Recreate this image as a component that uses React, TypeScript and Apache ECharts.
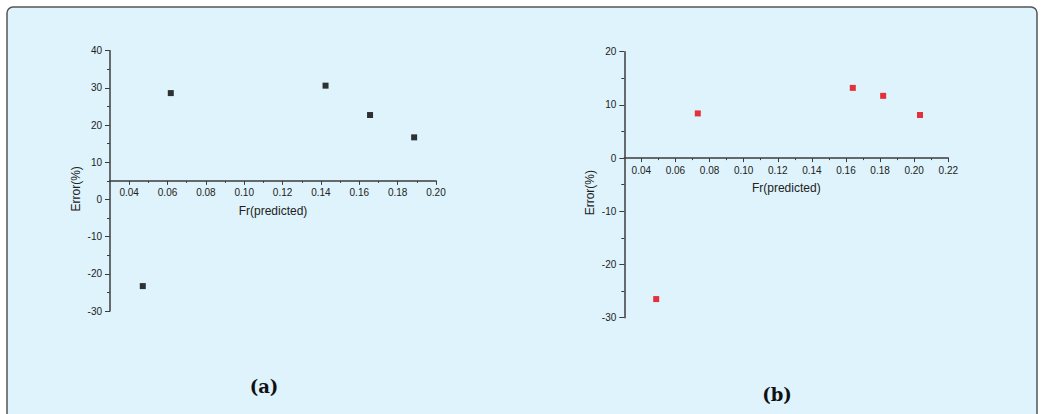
import React, { useEffect, useRef } from "react";
import * as echarts from "echarts";

// Panel (a)
const frA = [0.0471, 0.0617, 0.1424, 0.1656, 0.1886];
const errA = [-23.3, 28.6, 30.6, 22.7, 16.7];
// Panel (b)
const frB = [0.0487, 0.0731, 0.164, 0.1818, 0.2034];
const errB = [-26.5, 8.4, 13.2, 11.7, 8.1];

const xMajorA = [0.04, 0.06, 0.08, 0.1, 0.12, 0.14, 0.16, 0.18, 0.2];
const xMinorA = [0.05, 0.07, 0.09, 0.11, 0.13, 0.15, 0.17, 0.19];
const xMajorB = [0.04, 0.06, 0.08, 0.1, 0.12, 0.14, 0.16, 0.18, 0.2, 0.22];
const xMinorB = [0.05, 0.07, 0.09, 0.11, 0.13, 0.15, 0.17, 0.19, 0.21];

const xTitle = "Fr(predicted)";
const yTitle = "Error(%)";
const panelLabels = ["(a)", "(b)"];

const AXIS = "#3c3c3c";
const TXT = "#222";
const FONT = "Liberation Sans, Arial, sans-serif";

export default function App() {
  const ref = useRef<HTMLDivElement>(null);
  useEffect(() => {
    if (!ref.current) return;
    const chart = echarts.init(ref.current, undefined, { renderer: "svg" });

    const xMain = (grid: number, max: number, ticks: number[], offset: number) => ({
      type: "value",
      gridIndex: grid,
      min: 0.03,
      max,
      position: "bottom",
      offset,
      name: xTitle,
      nameLocation: "middle",
      nameGap: 24,
      nameTextStyle: { fontSize: 12, color: TXT, fontFamily: FONT },
      axisLine: { show: true, onZero: false, lineStyle: { color: AXIS, width: 1.5 } },
      axisTick: { show: true, inside: false, length: 4, customValues: ticks, lineStyle: { color: AXIS, width: 1 } },
      axisLabel: {
        show: true,
        margin: 7,
        fontSize: 10,
        color: TXT,
        fontFamily: FONT,
        customValues: ticks,
        formatter: (v: number) => v.toFixed(2),
      },
      splitLine: { show: false },
    });
    const xMinor = (grid: number, max: number, ticks: number[], offset: number) => ({
      type: "value",
      gridIndex: grid,
      min: 0.03,
      max,
      position: "bottom",
      offset,
      axisLine: { show: false, onZero: false },
      axisTick: { show: true, inside: false, length: 2, customValues: ticks, lineStyle: { color: AXIS, width: 1 } },
      axisLabel: { show: false },
      splitLine: { show: false },
    });
    const yAx = (grid: number, min: number, max: number) => ({
      type: "value",
      gridIndex: grid,
      min,
      max,
      interval: 10,
      name: yTitle,
      nameLocation: "middle",
      nameGap: 28,
      nameTextStyle: { fontSize: 12, color: TXT, fontFamily: FONT, padding: [0, 16, 0, 0] },
      axisLine: { show: true, onZero: false, lineStyle: { color: AXIS, width: 1.5 } },
      axisTick: { show: true, inside: false, length: 5, lineStyle: { color: AXIS, width: 1 } },
      minorTick: { show: true, splitNumber: 2, length: 3, lineStyle: { color: AXIS, width: 1 } },
      axisLabel: { margin: 8, fontSize: 10, color: TXT, fontFamily: FONT },
      splitLine: { show: false },
    });

    // grid (a): top 50.7, height 260.3, y range -30..40, x axis crosses at 5
    const offA = 50.7 + (35 / 70) * 260.3 - (50.7 + 260.3);
    // grid (b): top 51.7, height 266, y range -30..20, x axis crosses at 0
    const offB = 51.7 + (20 / 50) * 266 - (51.7 + 266);

    chart.setOption({
      animation: false,
      backgroundColor: "#ffffff",
      graphic: [
        {
          type: "rect",
          z: -10,
          shape: { x: 7, y: 7, width: 1030, height: 430, r: 6 },
          style: { fill: "#def3fb", stroke: "#555", lineWidth: 1.5 },
        },
        {
          type: "text",
          z: 10,
          style: {
            text: panelLabels[0],
            x: 264,
            y: 386,
            align: "center",
            verticalAlign: "middle",
            font: 'bold 18px "DejaVu Serif"',
            fill: "#111",
          },
        },
        {
          type: "text",
          z: 10,
          style: {
            text: panelLabels[1],
            x: 777,
            y: 394,
            align: "center",
            verticalAlign: "middle",
            font: 'bold 18px "DejaVu Serif"',
            fill: "#111",
          },
        },
      ],
      grid: [
        { left: 110, top: 50.7, width: 326, height: 260.3 },
        { left: 624.3, top: 51.7, width: 324, height: 266 },
      ],
      xAxis: [
        xMain(0, 0.2, xMajorA, offA),
        xMinor(0, 0.2, xMinorA, offA),
        xMain(1, 0.22, xMajorB, offB),
        xMinor(1, 0.22, xMinorB, offB),
      ],
      yAxis: [yAx(0, -30, 40), yAx(1, -30, 20)],
      series: [
        {
          type: "scatter",
          xAxisIndex: 0,
          yAxisIndex: 0,
          symbol: "rect",
          symbolSize: 6,
          itemStyle: { color: "#000" },
          data: frA.map((x, i) => [x, errA[i]]),
        },
        {
          type: "scatter",
          xAxisIndex: 2,
          yAxisIndex: 1,
          symbol: "rect",
          symbolSize: 6,
          itemStyle: { color: "#e3000d" },
          data: frB.map((x, i) => [x, errB[i]]),
        },
      ],
    });
    return () => chart.dispose();
  }, []);
  return (
    <div
      ref={ref}
      style={{ position: "absolute", left: 0, top: 0, width: 1045, height: 414 }}
    />
  );
}
